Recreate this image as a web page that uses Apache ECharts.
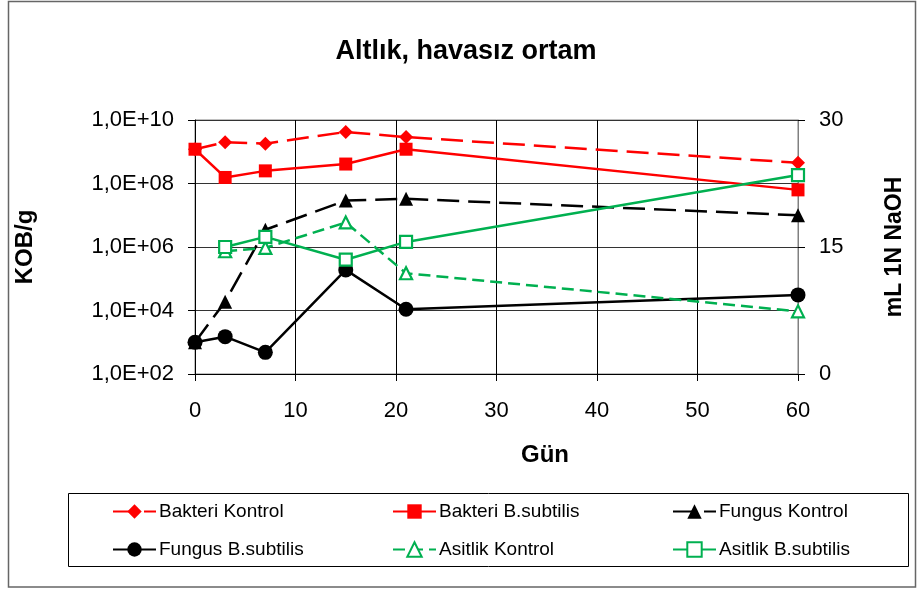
<!DOCTYPE html>
<html>
<head>
<meta charset="utf-8">
<script src="https://cdn.jsdelivr.net/npm/echarts@6/dist/echarts.min.js"></script>
<style>
html,body{margin:0;padding:0;background:#fff;}
#chart{width:917px;height:589px;}
</style>
</head>
<body>
<div id="chart"></div>
<script>
const days = [0, 3, 7, 15, 21, 60];
const bakteriKontrol = [1.2e9, 2.0e9, 1.8e9, 4.2e9, 2.9e9, 4.5e8];
const bakteriBS = [1.2e9, 1.55e8, 2.5e8, 4.1e8, 1.2e9, 6.3e7];
const fungusKontrol = [1000, 1.9e4, 3.5e6, 2.9e7, 3.3e7, 1.0e7];
const fungusBS = [1000, 1500, 480, 1.9e5, 1.1e4, 3.1e4];
const asitlikKontrol = [null, 14.5, 14.9, 17.9, 11.9, 7.4];
const asitlikBS = [null, 15.0, 16.2, 13.5, 15.6, 23.5];
const xTicks = [0, 10, 20, 30, 40, 50, 60];
const rightTicks = [0, 15, 30];

const names = ['Bakteri Kontrol', 'Bakteri B.subtilis', 'Fungus Kontrol', 'Fungus B.subtilis', 'Asitlik Kontrol', 'Asitlik B.subtilis'];

function pairs(arr) {
  const out = [];
  days.forEach((d, i) => { if (arr[i] != null) out.push([d, arr[i]]); });
  return out;
}

const RED = '#FF0000', BLACK = '#000000', GREEN = '#00B050';
const FONT = 'Liberation Sans, Arial, sans-serif';

function lineSeries(name, data, color, dash, symbol, size, hollow, yIdx) {
  return {
    name: name, type: 'line', yAxisIndex: yIdx, data: pairs(data),
    symbol: symbol, symbolSize: size, showAllSymbol: true,
    lineStyle: { color: color, width: 2.5, type: dash },
    itemStyle: hollow ? { color: '#fff', borderColor: color, borderWidth: 2.2 } : { color: color, borderWidth: 0 },
    emphasis: { disabled: true },
    animation: false
  };
}

const chart = echarts.init(document.getElementById('chart'), null, { renderer: 'canvas' });

function legendAt(name, left, top) {
  return {
    data: [name], left: left, top: top, orient: 'horizontal',
    itemWidth: 43, itemHeight: 18, padding: 0, itemGap: 0,
    textStyle: { fontFamily: FONT, fontSize: 19, color: '#000', padding: [0, 0, 0, -2] },
    selectedMode: false
  };
}

chart.setOption({
  animation: false,
  backgroundColor: '#fff',
  title: {
    text: 'Altlık, havasız ortam', left: 461, top: 33, textAlign: 'center',
    textStyle: { fontFamily: FONT, fontSize: 27, fontWeight: 'bold', color: '#000' }
  },
  grid: { left: 195, right: 119, top: 120, bottom: 215, show: true, borderColor: '#808080', borderWidth: 1 },
  legend: [
    legendAt(names[0], 112, 502),
    legendAt(names[1], 392, 502),
    legendAt(names[2], 672, 502),
    legendAt(names[3], 112, 540),
    legendAt(names[4], 392, 540),
    legendAt(names[5], 672, 540)
  ],
  xAxis: {
    type: 'value', min: xTicks[0], max: xTicks[xTicks.length - 1], interval: 10,
    axisLine: { show: true, onZero: false, lineStyle: { color: '#000', width: 1 } },
    axisTick: { show: true, inside: false, length: 7, lineStyle: { color: '#000' } },
    axisLabel: { margin: 26, fontFamily: FONT, fontSize: 22, color: '#000' },
    splitLine: { show: true, lineStyle: { color: '#000', width: 1 } }
  },
  yAxis: [
    {
      type: 'log', logBase: 10, min: 1e2, max: 1e10, interval: 2,
      name: 'KOB/g', nameLocation: 'middle', nameGap: 158, nameRotate: 90,
      nameTextStyle: { fontFamily: FONT, fontSize: 24, fontWeight: 'bold', color: '#000' },
      axisLine: { show: true, lineStyle: { color: '#000', width: 1 } },
      axisTick: { show: true, inside: false, length: 7, lineStyle: { color: '#000' } },
      axisLabel: {
        margin: 21, fontFamily: FONT, fontSize: 22, color: '#000',
        formatter: function (v) {
          const e = Math.round(Math.log10(v));
          return '1,0E+' + (e < 10 ? '0' + e : e);
        }
      },
      splitLine: { show: true, lineStyle: { color: '#333', width: 1 } },
      minorTick: { show: false }
    },
    {
      type: 'value', min: rightTicks[0], max: rightTicks[rightTicks.length - 1], interval: 15, position: 'right',
      name: 'mL 1N NaOH', nameLocation: 'middle', nameGap: 85, nameRotate: 90,
      nameTextStyle: { fontFamily: FONT, fontSize: 23, fontWeight: 'bold', color: '#000' },
      axisLine: { show: true, lineStyle: { color: '#808080', width: 1 } },
      axisTick: { show: true, inside: false, length: 7, lineStyle: { color: '#000' } },
      axisLabel: { margin: 21, fontFamily: FONT, fontSize: 22, color: '#000' },
      splitLine: { show: false }
    }
  ],
  graphic: [
    { type: 'rect', shape: { x: 8.5, y: 1.5, width: 907, height: 585.5 }, style: { fill: 'none', stroke: '#666', lineWidth: 1.5 }, z: -1, silent: true },
    { type: 'rect', shape: { x: 68.5, y: 493.5, width: 840, height: 73 }, style: { fill: 'none', stroke: '#000', lineWidth: 1 }, silent: true },
    { type: 'text', x: 545, y: 455, style: { text: 'Gün', fontFamily: FONT, fontSize: 24, fontWeight: 'bold', fill: '#000', align: 'center', verticalAlign: 'middle' }, silent: true }
  ],
  series: [
    lineSeries(names[0], bakteriKontrol, RED, [22, 9], 'diamond', 14, false, 0),
    lineSeries(names[1], bakteriBS, RED, 'solid', 'rect', 13, false, 0),
    lineSeries(names[2], fungusKontrol, BLACK, [22, 9], 'triangle', 14, false, 0),
    lineSeries(names[3], fungusBS, BLACK, 'solid', 'circle', 15, false, 0),
    lineSeries(names[4], asitlikKontrol, GREEN, [12, 6], 'triangle', 12, true, 1),
    lineSeries(names[5], asitlikBS, GREEN, 'solid', 'rect', 12, true, 1)
  ]
});
</script>
</body>
</html>
